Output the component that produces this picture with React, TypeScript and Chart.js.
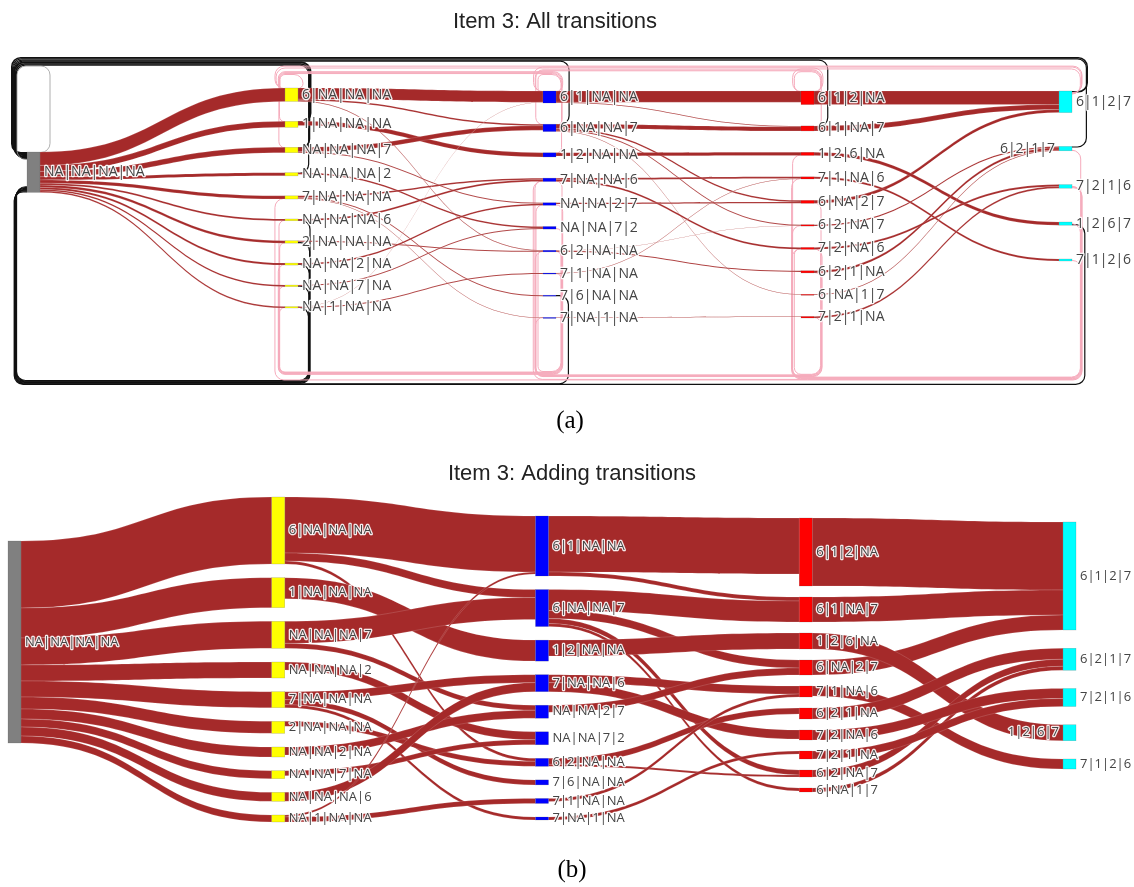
import React, { useEffect, useRef } from "react";
import { Chart, registerables } from "chart.js";

Chart.register(...registerables);

// ---------------- data ----------------
const START = ["NA|NA|NA|NA"];
const STEP1 = ["6|NA|NA|NA", "1|NA|NA|NA", "NA|NA|NA|7", "NA|NA|NA|2", "7|NA|NA|NA", "2|NA|NA|NA", "NA|NA|2|NA", "NA|NA|7|NA", "NA|NA|NA|6", "NA|1|NA|NA"];
const STEP1_ORDER_A = ["6|NA|NA|NA", "1|NA|NA|NA", "NA|NA|NA|7", "NA|NA|NA|2", "7|NA|NA|NA", "NA|NA|NA|6", "2|NA|NA|NA", "NA|NA|2|NA", "NA|NA|7|NA", "NA|1|NA|NA"];
const STEP2 = ["6|1|NA|NA", "6|NA|NA|7", "1|2|NA|NA", "7|NA|NA|6", "NA|NA|2|7", "NA|NA|7|2", "6|2|NA|NA", "7|6|NA|NA", "7|1|NA|NA", "7|NA|1|NA"];
const STEP2_ORDER_A = ["6|1|NA|NA", "6|NA|NA|7", "1|2|NA|NA", "7|NA|NA|6", "NA|NA|2|7", "NA|NA|7|2", "6|2|NA|NA", "7|1|NA|NA", "7|6|NA|NA", "7|NA|1|NA"];
const STEP3 = ["6|1|2|NA", "6|1|NA|7", "1|2|6|NA", "6|NA|2|7", "7|1|NA|6", "6|2|1|NA", "7|2|NA|6", "7|2|1|NA", "6|2|NA|7", "6|NA|1|7"];
const STEP3_ORDER_A = ["6|1|2|NA", "6|1|NA|7", "1|2|6|NA", "7|1|NA|6", "6|NA|2|7", "6|2|NA|7", "7|2|NA|6", "6|2|1|NA", "6|NA|1|7", "7|2|1|NA"];
const STEP4 = ["6|1|2|7", "6|2|1|7", "7|2|1|6", "1|2|6|7", "7|1|2|6"];

// first answers given (from the empty state), aligned with STEP1
const FIRST_COUNTS = [33.5, 15, 13.5, 8, 8, 6, 5, 4, 4.5, 3.5];

type Link = [string, string, number];
const LINKS_1_2: Link[] = [
  ["6|NA|NA|NA", "6|1|NA|NA", 28],
  ["6|NA|NA|NA", "6|NA|NA|7", 4],
  ["6|NA|NA|NA", "6|2|NA|NA", 1.5],
  ["1|NA|NA|NA", "1|2|NA|NA", 10.5],
  ["NA|NA|NA|7", "6|NA|NA|7", 11],
  ["NA|NA|NA|7", "NA|NA|2|7", 2.5],
  ["NA|NA|NA|2", "NA|NA|7|2", 4],
  ["7|NA|NA|NA", "7|NA|NA|6", 4],
  ["7|NA|NA|NA", "7|6|NA|NA", 2.5],
  ["7|NA|NA|NA", "7|NA|1|NA", 1.5],
  ["2|NA|NA|NA", "6|2|NA|NA", 2.5],
  ["NA|NA|2|NA", "NA|NA|2|7", 4],
  ["NA|NA|7|NA", "NA|NA|7|2", 2.5],
  ["NA|NA|NA|6", "7|NA|NA|6", 4.5],
  ["NA|1|NA|NA", "6|1|NA|NA", 1],
  ["NA|1|NA|NA", "7|1|NA|NA", 2.5],
];
const LINKS_2_3: Link[] = [
  ["6|1|NA|NA", "6|1|2|NA", 28],
  ["6|1|NA|NA", "6|1|NA|7", 2],
  ["6|NA|NA|7", "6|1|NA|7", 10.5],
  ["6|NA|NA|7", "6|NA|2|7", 4],
  ["6|NA|NA|7", "6|2|NA|7", 2.5],
  ["6|NA|NA|7", "6|NA|1|7", 1.5],
  ["1|2|NA|NA", "1|2|6|NA", 8],
  ["7|NA|NA|6", "7|1|NA|6", 4],
  ["7|NA|NA|6", "7|2|NA|6", 4.5],
  ["NA|NA|2|7", "6|NA|2|7", 3.5],
  ["6|2|NA|NA", "6|2|1|NA", 3],
  ["6|2|NA|NA", "6|2|NA|7", 1],
  ["7|1|NA|NA", "7|1|NA|6", 1.5],
  ["7|NA|1|NA", "7|2|1|NA", 1.5],
];
const LINKS_3_4: Link[] = [
  ["6|1|2|NA", "6|1|2|7", 34],
  ["6|1|NA|7", "6|1|2|7", 12.5],
  ["6|NA|2|7", "6|1|2|7", 7.5],
  ["1|2|6|NA", "1|2|6|7", 8],
  ["7|1|NA|6", "7|1|2|6", 5],
  ["6|2|1|NA", "6|2|1|7", 5.5],
  ["6|2|NA|7", "6|2|1|7", 3.5],
  ["6|NA|1|7", "6|2|1|7", 2],
  ["7|2|NA|6", "7|2|1|6", 5],
  ["7|2|1|NA", "7|2|1|6", 4],
];

// backward / repeated transitions (only in "All transitions")
type Loop = [string, string, number, string, string];
const LOOPS_TO_EMPTY: Loop[] = [
  ["6|1|2|7", "NA|NA|NA|NA", 4, "black", "top"],
  ["6|2|1|7", "NA|NA|NA|NA", 3, "black", "top"],
  ["6|1|NA|7", "NA|NA|NA|NA", 3, "black", "top"],
  ["6|NA|NA|7", "NA|NA|NA|NA", 3, "black", "top"],
  ["1|NA|NA|NA", "NA|NA|NA|NA", 5, "black", "top"],
  ["NA|NA|NA|7", "NA|NA|NA|NA", 4, "black", "top"],
  ["NA|NA|NA|2", "NA|NA|NA|NA", 3, "black", "top"],
  ["1|2|6|7", "NA|NA|NA|NA", 3, "black", "bottom"],
  ["7|6|NA|NA", "NA|NA|NA|NA", 3, "black", "bottom"],
  ["NA|NA|NA|6", "NA|NA|NA|NA", 3, "black", "bottom"],
  ["2|NA|NA|NA", "NA|NA|NA|NA", 3, "black", "bottom"],
  ["NA|NA|2|NA", "NA|NA|NA|NA", 3, "black", "bottom"],
  ["NA|NA|7|NA", "NA|NA|NA|NA", 3, "black", "bottom"],
  ["NA|1|NA|NA", "NA|NA|NA|NA", 3, "black", "bottom"],
  ["NA|NA|NA|NA", "NA|NA|NA|NA", 2, "gray", "top"],
];
const LOOPS_CHANGE: Loop[] = [
  ["6|1|2|7", "6|NA|NA|NA", 2.5, "pink", "top"],
  ["6|1|2|7", "6|1|NA|NA", 2.5, "pink", "top"],
  ["6|1|2|7", "6|1|2|NA", 2.5, "pink", "top"],
  ["6|1|2|NA", "6|NA|NA|NA", 2.5, "pink", "top"],
  ["6|1|2|NA", "6|1|NA|NA", 2.5, "pink", "top"],
  ["6|1|NA|7", "6|NA|NA|7", 2.5, "pink", "top"],
  ["6|1|NA|NA", "6|NA|NA|NA", 2.5, "pink", "top"],
  ["6|NA|NA|7", "NA|NA|NA|7", 2.5, "pink", "top"],
  ["1|2|NA|NA", "1|NA|NA|NA", 2.5, "pink", "top"],
  ["6|NA|NA|NA", "6|NA|NA|NA", 2.5, "pink", "top"],
  ["6|1|NA|NA", "6|1|NA|NA", 2.5, "pink", "top"],
  ["6|1|2|NA", "6|1|2|NA", 2.5, "pink", "top"],
  ["7|1|2|6", "7|1|NA|6", 2.5, "pink", "bottom"],
  ["7|2|1|6", "7|2|NA|6", 2.5, "pink", "bottom"],
  ["6|2|1|7", "6|2|NA|7", 2.5, "pink", "bottom"],
  ["1|2|6|7", "1|2|6|NA", 2.5, "pink", "bottom"],
  ["7|2|1|6", "7|NA|NA|6", 2.5, "pink", "bottom"],
  ["7|2|NA|6", "7|NA|NA|6", 2.5, "pink", "bottom"],
  ["6|2|1|NA", "6|2|NA|NA", 2.5, "pink", "bottom"],
  ["7|2|1|NA", "7|NA|1|NA", 2.5, "pink", "bottom"],
  ["6|NA|2|7", "NA|NA|2|7", 2.5, "pink", "bottom"],
  ["NA|NA|2|7", "NA|NA|2|NA", 2.5, "pink", "bottom"],
  ["NA|NA|7|2", "NA|NA|7|NA", 2.5, "pink", "bottom"],
  ["7|NA|NA|6", "NA|NA|NA|6", 2.5, "pink", "bottom"],
  ["7|1|NA|NA", "NA|1|NA|NA", 2.5, "pink", "bottom"],
  ["6|2|NA|NA", "2|NA|NA|NA", 2.5, "pink", "bottom"],
  ["7|2|1|6", "7|NA|NA|NA", 2.5, "pink", "bottom"],
  ["6|2|NA|NA", "6|2|NA|NA", 2.5, "pink", "bottom"],
  ["7|2|NA|6", "7|2|NA|6", 2.5, "pink", "bottom"],
];

// ---------------- styles ----------------
const NODE_COLORS = ["#808080", "#ffff00", "#0000ff", "#ff0000", "#00ffff"];
const LINK_COLOR = "#a52a2a";
const LOOP_COLORS: Record<string, string> = { black: "#111111", pink: "#f5aabb", gray: "#9a9a9a" };
const NODE_W = 13;

const FIRST_LINKS: Link[] = STEP1.map((s, i) => [START[0], s, FIRST_COUNTS[i]] as Link);
const ALL_LINKS: Link[] = [...FIRST_LINKS, ...LINKS_1_2, ...LINKS_2_3, ...LINKS_3_4];

const PANEL_A = {
  columns: [START, STEP1_ORDER_A, STEP2_ORDER_A, STEP3_ORDER_A, STEP4],
  loops: [...LOOPS_TO_EMPTY, ...LOOPS_CHANGE],
  k: 0.4,
  height: 440,
  padding: { left: 27, right: 75, top: 40, bottom: 40 },
  spans: [[152, 193], [88, 308], [91, 318], [91, 318], [91, 261]],
  loopTop: 57,
  loopBottom: 385,
  depth: { top: 17, bottom: 13 },
  labelFont: '14px "Open Sans", "DejaVu Sans", sans-serif',
  labelLeft: ["6|2|1|7"],
  title: "Item 3: All transitions",
  titleX: 555,
  titleY: 22,
  caption: "(a)",
  captionX: 570,
  captionY: 421,
};
const PANEL_B = {
  columns: [START, STEP1, STEP2, STEP3, STEP4],
  loops: [] as Loop[],
  k: 2,
  height: 447,
  padding: { left: 8, right: 71, top: 55, bottom: 62 },
  spans: [[101, 305], [57, 382], [76, 380], [78, 352], [82, 329]],
  loopTop: 0,
  loopBottom: 0,
  depth: { top: 0, bottom: 0 },
  labelFont: '13px "Open Sans", "DejaVu Sans", sans-serif',
  labelLeft: ["1|2|6|7"],
  title: "Item 3: Adding transitions",
  titleX: 572,
  titleY: 34,
  caption: "(b)",
  captionX: 572,
  captionY: 430,
};

function makePlugin(cfg: any) {
  return {
    id: "sankeyDraw",
    afterDatasetsDraw(chart: any) {
      const ctx = chart.ctx as CanvasRenderingContext2D;
      const xs = chart.scales.x;
      const ys = chart.scales.y;
      const k = cfg.k;

      // node values
      const inSum: Record<string, number> = {};
      const outSum: Record<string, number> = {};
      ALL_LINKS.forEach(([s, t, v]) => {
        outSum[s] = (outSum[s] || 0) + v;
        inSum[t] = (inSum[t] || 0) + v;
      });
      const nodes: Record<string, any> = {};
      cfg.columns.forEach((col: string[], c: number) => {
        const vals = col.map((l) => Math.max(inSum[l] || 0, outSum[l] || 0));
        const top = ys.getValueForPixel(cfg.spans[c][0]);
        const bot = ys.getValueForPixel(cfg.spans[c][1]);
        const total = vals.reduce((a, b) => a + b, 0);
        const gap = col.length > 1 ? (bot - top - total) / (col.length - 1) : 0;
        let cur = top;
        col.forEach((l, i) => {
          nodes[l] = { label: l, col: c, v: vals[i], y0: cur, y1: cur + vals[i] };
          cur += vals[i] + gap;
        });
      });

      const links = ALL_LINKS.map(([s, t, v]) => ({ s: nodes[s], t: nodes[t], v, sy: 0, ty: 0 }));
      Object.values(nodes).forEach((n: any) => {
        const outs = links.filter((l) => l.s === n).sort((a, b) => a.t.y0 + a.t.y1 - b.t.y0 - b.t.y1);
        let o = n.y0;
        outs.forEach((l) => { l.sy = o; o += l.v; });
        const ins = links.filter((l) => l.t === n).sort((a, b) => a.s.y0 + a.s.y1 - b.s.y0 - b.s.y1);
        let p = n.y0;
        ins.forEach((l) => { l.ty = p; p += l.v; });
      });

      const nx = (n: any) => xs.getPixelForValue(n.col);

      ctx.save();
      // ---- circular loops ----
      const rank: Record<string, number> = { black: 0, pink: 1, gray: 2 };
      const loops = cfg.loops.map(([s, t, v, color, side]: Loop) => {
        const a = nodes[s].col, b = nodes[t].col;
        return { s: nodes[s], t: nodes[t], w: v * k, color, side, c0: Math.min(a, b), c1: Math.max(a, b), span: Math.abs(a - b), off: 0 };
      });
      loops.sort((a: any, b: any) => rank[a.color] - rank[b.color] || b.span - a.span);
      const placed: any[] = [];
      const rawMax: Record<string, number> = { top: 0, bottom: 0 };
      loops.forEach((l: any) => {
        let off = 0;
        placed.forEach((p) => {
          if (p.side === l.side && p.c0 <= l.c1 && l.c0 <= p.c1) off = Math.max(off, p.off + p.w + 0.3);
        });
        l.off = off;
        placed.push(l);
        rawMax[l.side] = Math.max(rawMax[l.side], off);
      });
      loops.forEach((l: any) => {
        const sc = rawMax[l.side] > 0 ? Math.min(1, cfg.depth[l.side] / rawMax[l.side]) : 1;
        l.off = l.off * sc;
      });
      const attach: Record<string, number> = {};
      loops.forEach((l: any) => {
        const top = l.side === "top";
        const ks = l.s.label + "|o|" + l.side;
        const kt = l.t.label + "|i|" + l.side;
        const as = attach[ks] || 0, at = attach[kt] || 0;
        attach[ks] = as + l.w * 0.7;
        attach[kt] = at + l.w * 0.7;
        const sy = top ? ys.getPixelForValue(l.s.y0) + as + l.w / 2 : ys.getPixelForValue(l.s.y1) - as - l.w / 2;
        const ty = top ? ys.getPixelForValue(l.t.y0) + at + l.w / 2 : ys.getPixelForValue(l.t.y1) - at - l.w / 2;
        const yl = top ? cfg.loopTop + l.off + l.w / 2 : cfg.loopBottom - l.off - l.w / 2;
        const xo = 5 + (cfg.depth[l.side] - l.off) * 0.6;
        const xsrc = nx(l.s) + NODE_W;
        const xtgt = nx(l.t);
        const xr = xsrc + xo;
        const xl = xtgt - xo;
        const r1 = Math.max(0.5, Math.min(9, xo, Math.abs(yl - sy) / 2));
        const r2 = Math.max(0.5, Math.min(9, xo, Math.abs(yl - ty) / 2));
        ctx.beginPath();
        ctx.moveTo(xsrc, sy);
        ctx.arcTo(xr, sy, xr, yl, r1);
        ctx.arcTo(xr, yl, xl, yl, 9);
        ctx.arcTo(xl, yl, xl, ty, r2);
        ctx.arcTo(xl, ty, xtgt, ty, r2);
        ctx.lineTo(xtgt, ty);
        ctx.strokeStyle = LOOP_COLORS[l.color];
        ctx.lineWidth = Math.max(0.8, l.w);
        ctx.stroke();
      });

      // ---- forward links ----
      links.forEach((l) => {
        const x0 = nx(l.s) + NODE_W;
        const x1 = nx(l.t);
        const a0 = ys.getPixelForValue(l.sy), a1 = ys.getPixelForValue(l.sy + l.v);
        const b0 = ys.getPixelForValue(l.ty), b1 = ys.getPixelForValue(l.ty + l.v);
        const xm = (x0 + x1) / 2;
        ctx.beginPath();
        ctx.moveTo(x0, a0);
        ctx.bezierCurveTo(xm, a0, xm, b0, x1, b0);
        ctx.lineTo(x1, b1);
        ctx.bezierCurveTo(xm, b1, xm, a1, x0, a1);
        ctx.closePath();
        ctx.fillStyle = LINK_COLOR;
        ctx.fill();
        ctx.strokeStyle = "rgba(255,255,255,0.3)";
        ctx.lineWidth = 0.5;
        ctx.stroke();
      });

      // ---- nodes ----
      Object.values(nodes).forEach((n: any) => {
        const x = nx(n);
        const y0 = ys.getPixelForValue(n.y0);
        const y1 = ys.getPixelForValue(n.y1);
        ctx.fillStyle = NODE_COLORS[n.col];
        ctx.fillRect(x, y0, NODE_W, Math.max(1, y1 - y0));
        ctx.strokeStyle = "rgba(68,68,68,0.35)";
        ctx.lineWidth = 0.5;
        ctx.strokeRect(x, y0, NODE_W, Math.max(1, y1 - y0));
      });

      // ---- labels ----
      ctx.font = cfg.labelFont;
      ctx.textBaseline = "middle";
      ctx.lineJoin = "round";
      Object.values(nodes).forEach((n: any) => {
        const left = cfg.labelLeft.includes(n.label);
        const x = left ? nx(n) - 4 : nx(n) + NODE_W + 4;
        const y = (ys.getPixelForValue(n.y0) + ys.getPixelForValue(n.y1)) / 2;
        ctx.textAlign = left ? "right" : "left";
        ctx.strokeStyle = "rgba(255,255,255,0.9)";
        ctx.lineWidth = 2.5;
        ctx.strokeText(n.label, x, y);
        ctx.fillStyle = "#444444";
        ctx.fillText(n.label, x, y);
      });

      // ---- title and caption ----
      ctx.textAlign = "center";
      ctx.textBaseline = "middle";
      ctx.fillStyle = "#222222";
      ctx.font = '22px "Liberation Sans", Arial, sans-serif';
      ctx.fillText(cfg.title, cfg.titleX, cfg.titleY);
      ctx.fillStyle = "#000000";
      ctx.font = '25px "Liberation Serif", "Times New Roman", serif';
      ctx.fillText(cfg.caption, cfg.captionX, cfg.captionY);
      ctx.restore();
    },
  };
}

function Panel({ cfg }: { cfg: any }) {
  const ref = useRef<HTMLCanvasElement | null>(null);
  useEffect(() => {
    const canvas = ref.current;
    if (!canvas) return;
    const plotH = cfg.height - cfg.padding.top - cfg.padding.bottom;
    const chart = new Chart(canvas, {
      type: "scatter",
      data: { datasets: [] },
      options: {
        animation: false,
        responsive: false,
        devicePixelRatio: 1,
        layout: { padding: cfg.padding },
        plugins: { legend: { display: false }, tooltip: { enabled: false }, title: { display: false } },
        scales: {
          x: { type: "linear", min: 0, max: cfg.columns.length - 1, display: false },
          y: { type: "linear", min: 0, max: plotH / cfg.k, reverse: true, display: false },
        },
      },
      plugins: [makePlugin(cfg)],
    } as any);
    return () => chart.destroy();
  }, [cfg]);
  return <canvas ref={ref} width={1134} height={cfg.height} style={{ display: "block", width: 1134, height: cfg.height }} />;
}

export default function App() {
  return (
    <div style={{ position: "absolute", left: 0, top: 0, width: 1134, height: 887, background: "#fff" }}>
      <Panel cfg={PANEL_A} />
      <Panel cfg={PANEL_B} />
    </div>
  );
}
